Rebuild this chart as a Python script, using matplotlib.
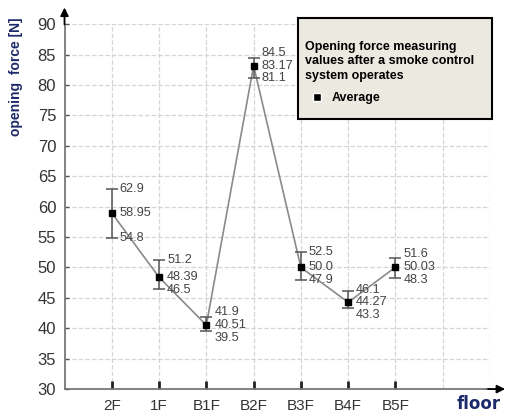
import numpy as np
import matplotlib.pyplot as plt
from matplotlib.patches import Rectangle
from matplotlib.lines import Line2D

# 층별 개방력 데이터
floors = ['2F', '1F', 'B1F', 'B2F', 'B3F', 'B4F', 'B5F']
mean_vals = [58.95, 48.39, 40.51, 83.17, 50.0, 44.27, 50.03]
max_vals = [62.9, 51.2, 41.9, 84.5, 52.5, 46.1, 51.6]
min_vals = [54.8, 46.5, 39.5, 81.1, 47.9, 43.3, 48.3]
mean_text = ['58.95', '48.39', '40.51', '83.17', '50.0', '44.27', '50.03']

plt.rcParams['font.family'] = ['Liberation Sans', 'DejaVu Sans']

fig = plt.figure(figsize=(5.12, 4.17), dpi=100)
ax = fig.add_axes([0.126, 0.067, 0.831, 0.875])

x = np.arange(1, len(floors) + 1)
mean_arr = np.array(mean_vals)
hi = np.array(max_vals)
lo = np.array(min_vals)

# 평균 연결선
ax.plot(x, mean_arr, color='#8a8a8a', lw=1.2, zorder=2)
# 오차 막대
ax.errorbar(x, mean_arr, yerr=[mean_arr - lo, hi - mean_arr], fmt='none',
            ecolor='#555555', elinewidth=1.1, capsize=4, capthick=1.1, zorder=3)
ax.plot(x, mean_arr, 's', color='black', ms=5, zorder=4)

# 값 라벨 (겹치지 않게 최소 간격 유지)
gap = 2.1
for xi, m, h, l, mt in zip(x, mean_arr, hi, lo, mean_text):
    yu = max(h, m + gap)
    yl = min(l, m - gap)
    kw = dict(fontsize=9.2, color='#444444', va='center', ha='left')
    ax.text(xi + 0.17, yu, f'{h:g}', **kw)
    ax.text(xi + 0.17, m, mt, **kw)
    ax.text(xi + 0.17, yl, f'{l:g}', **kw)

ax.set_xlim(0, 9)
ax.set_ylim(30, 90)
ax.set_yticks(np.arange(30, 91, 5))
ax.set_xticks(x)
ax.set_xticklabels(floors)

# 격자
for gx in range(1, 10):
    ax.plot([gx, gx], [30, 90], ls='--', color='#d5d5d5', lw=0.9, zorder=0)
for gy in range(35, 91, 5):
    ax.plot([0, 9], [gy, gy], ls='--', color='#d5d5d5', lw=0.9, zorder=0)

for s in ['top', 'right']:
    ax.spines[s].set_visible(False)
for s in ['left', 'bottom']:
    ax.spines[s].set_color('#777777')
    ax.spines[s].set_linewidth(1.3)

ax.tick_params(axis='y', direction='in', length=3, width=1, color='#555555',
               labelsize=12, labelcolor='#333333', pad=6)
ax.tick_params(axis='x', direction='in', length=6, width=2, color='#222222',
               labelsize=11, labelcolor='#333333', pad=7)

# 축 화살표
ax.annotate('', xy=(9.38, 30), xytext=(8.9, 30),
            arrowprops=dict(arrowstyle='-|>', color='black', lw=1.3,
                            mutation_scale=12), annotation_clip=False)
ax.plot([8.9, 9.2], [30, 30], color='#777777', lw=1.3, clip_on=False)
ax.annotate('', xy=(0, 93.2), xytext=(0, 89.5),
            arrowprops=dict(arrowstyle='-|>', color='black', lw=1.3,
                            mutation_scale=12), annotation_clip=False)

fig.text(0.032, 0.815, 'opening  force [N]', rotation=90, ha='center', va='center',
         fontsize=10, color='#1c2a6a', fontweight='bold')
fig.text(0.935, 0.03, 'floor', ha='center', va='center', fontsize=12,
         color='#1c2a6a', family='DejaVu Sans', fontweight='bold')

# 범례 상자
box = Rectangle((298 / 512, 1 - 119 / 417), 194 / 512, 101 / 417,
                transform=fig.transFigure, facecolor='#ece9e0',
                edgecolor='black', lw=1.5, zorder=5)
fig.patches.append(box)
fig.text(305 / 512, 1 - 41 / 417,
         'Opening force measuring\nvalues after a smoke control\nsystem operates',
         ha='left', va='top', fontsize=9, fontweight='bold', color='black',
         linespacing=1.25, zorder=6)
h = Line2D([], [], marker='s', ls='none', color='black', ms=6,
           markeredgecolor='white', markeredgewidth=1)
leg = fig.legend([h], ['Average'], loc='center left',
                 bbox_to_anchor=(303 / 512, 1 - 98 / 417), frameon=False,
                 prop=dict(weight='bold', size=9), handletextpad=0.6,
                 handlelength=1.2, borderpad=0)
leg.set_zorder(7)

fig.savefig('out.png', dpi=100)
